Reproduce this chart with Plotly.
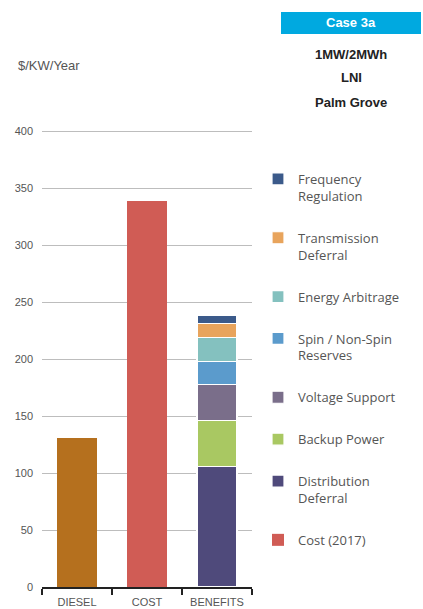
import plotly.graph_objects as go

# ---- data ----
categories = ["DIESEL", "COST", "BENEFITS"]
diesel_value = 131
cost_value = 339
benefit_names = ["Distribution<br>Deferral", "Backup Power", "Voltage Support",
                 "Spin / Non-Spin<br>Reserves", "Energy Arbitrage",
                 "Transmission<br>Deferral", "Frequency<br>Regulation"]
benefit_values = [106, 40, 32, 20, 21, 12, 7]
benefit_colors = ["#4F4A7B", "#A9C862", "#7A6E8A", "#5B9BCC", "#84C1BF", "#E8A45C", "#3B5A8A"]
y_ticks = [0, 50, 100, 150, 200, 250, 300, 350, 400]

# ---- layout geometry (pixels) ----
W, H = 423, 609
PL, PR, PT, PB = 42, 252, 130, 587


def px(x):
    return (x - PL) / (PR - PL)


def py(y):
    return (PB - y) / (PB - PT)


FONT = "Liberation Sans, Arial, sans-serif"
fig = go.Figure()

fig.add_trace(go.Bar(x=[categories[0]], y=[diesel_value], marker_color="#B5701E",
                     marker_line_width=0, showlegend=False, name="Diesel"))
fig.add_trace(go.Bar(x=[categories[1]], y=[cost_value], marker_color="#D05C55",
                     marker_line_width=0, name="Cost (2017)", legendgroup="cost",
                     legendrank=1000))
for i, (n, v, c) in enumerate(zip(benefit_names, benefit_values, benefit_colors)):
    fig.add_trace(go.Bar(x=[categories[2]], y=[v], marker_color=c,
                         marker_line=dict(color="white", width=1.2), name=n,
                         legendgroup=f"g{i}", legendrank=900 - i * 10))

fig.update_layout(
    width=W, height=H,
    margin=dict(l=PL, r=W - PR, t=PT, b=H - PB, pad=0, autoexpand=False),
    paper_bgcolor="white", plot_bgcolor="white",
    barmode="stack", bargap=0.43,
    font=dict(family=FONT, color="#555", size=12),
    legend=dict(x=px(258), y=py(164), xanchor="left", yanchor="top",
                traceorder="grouped", tracegroupgap=22, valign="top",
                font=dict(family="Open Sans, Liberation Sans, sans-serif", size=13,
                          color="#555"), itemclick=False),
    xaxis=dict(showline=True, linecolor="#222", linewidth=1.5, ticks="outside",
               tickson="boundaries", ticklen=6, tickcolor="#222", tickwidth=1.5,
               tickfont=dict(size=11, color="#555"), showgrid=False, automargin=False,
               ticklabelstandoff=4),
    yaxis=dict(range=[0, 401], tickvals=y_ticks, showgrid=True, gridcolor="#BDBDBD",
               gridwidth=1, zeroline=False, showline=False, ticks="",
               tickfont=dict(size=11, color="#555"), ticklabelstandoff=8,
               automargin=False),
)

fig.add_shape(type="rect", xref="paper", yref="paper", x0=px(281), x1=px(421),
              y0=py(34), y1=py(12), fillcolor="#00A9E0", line_width=0, layer="below")
fig.add_annotation(xref="paper", yref="paper", x=px(351), y=py(23), text="<b>Case 3a</b>",
                   xanchor="center", yanchor="middle",
                   showarrow=False, font=dict(size=13, color="white"))
for t, yy in [("1MW/2MWh", 54), ("LNI", 78), ("Palm Grove", 102)]:
    fig.add_annotation(xref="paper", yref="paper", x=px(351), y=py(yy), text=f"<b>{t}</b>",
                       xanchor="center", yanchor="middle",
                       showarrow=False, font=dict(size=13, color="#222"))
fig.add_annotation(xref="paper", yref="paper", x=px(16), y=py(66), xanchor="left",
                   yanchor="middle",
                   text="$/KW/Year", showarrow=False, font=dict(size=13, color="#555"))

fig.write_html("out.html")
